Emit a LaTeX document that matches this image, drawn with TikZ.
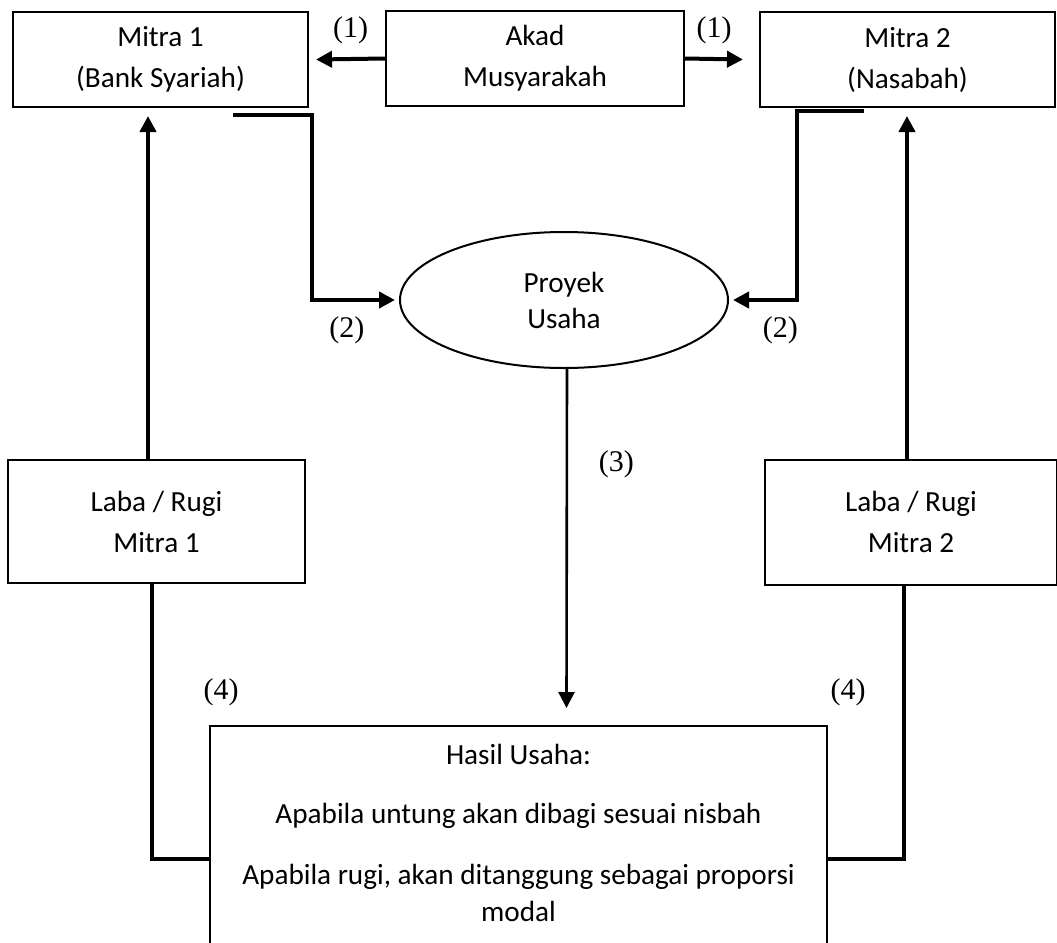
\documentclass[tikz,border=0pt]{standalone}
\usepackage{fontspec}
\setmainfont{Liberation Serif}
\setsansfont{Carlito}
\usetikzlibrary{shapes.geometric, positioning, arrows.meta}
\tikzset{
    box/.style={
        rectangle, draw=black, line width=1pt, align=center, font=\sffamily\fontsize{14.6}{20.5}\selectfont
    },
    oval/.style={
        ellipse, draw=black, line width=1pt, minimum width=164pt, minimum height=68pt, align=center, font=\sffamily\fontsize{14.6}{18}\selectfont
    },
    arrow/.style={
        line width=2pt, -{Triangle[length=8pt,width=8pt]}
    },
    link/.style={
        line width=1.6pt
    },
    num/.style={
        font=\fontsize{15}{15}\selectfont
    }
}

\begin{document}
\begin{tikzpicture}[x=0.5pt, y=-0.5pt]
    \useasboundingbox (0,0) rectangle (1057,943);

    % Nodes
    \node (akad) [box, minimum width=149pt, minimum height=47.5pt] at (535,58.5) {Akad\\Musyarakah};
    \node (m1) [box, minimum width=147.5pt, minimum height=47.5pt] at (160.5,59.5) {Mitra 1\\(Bank Syariah)};
    \node (m2) [box, minimum width=147.5pt, minimum height=47.5pt] at (907.5,59.5) {Mitra 2\\(Nasabah)};
    \node (proyek) [oval] at (564,300) {Proyek\\Usaha};
    \node (lr1) [box, minimum width=148.5pt, minimum height=61.5pt] at (156.5,521.5) {Laba / Rugi\\Mitra 1};
    \node (lr2) [box, minimum width=146pt, minimum height=62.5pt] at (911,522) {Laba / Rugi\\Mitra 2};
    \node (hasil) [box, minimum width=308.5pt, minimum height=133pt, anchor=north] at (518.5,725) {};
    \node (hasiltxt) [anchor=north, inner sep=0pt, align=center, font=\sffamily\fontsize{14.6}{18.5}\selectfont]
        at ([yshift=-9.5pt]hasil.north) {Hasil Usaha:\\[11pt]Apabila untung akan dibagi sesuai nisbah\\[12pt]Apabila rugi, akan ditanggung sebagai proporsi\\modal};

    \coordinate (m1out) at (233,115);
    \coordinate (m2out) at (864,111);

    % Connections
    \draw [arrow] (akad.west) -- node[num, above=3pt] {(1)} ([xshift=3.5pt]m1.east);
    \draw [arrow] (akad.east) -- node[num, above=3pt] {(1)} ([xshift=-8pt]m2.west);
    \draw [arrow] (m1out) -- ++(79,0) |- node[num, pos=0.71, below=4pt] {(2)} ([xshift=-2pt]proyek.west);
    \draw [arrow] (m2out) -- ++(-67,0) |- node[num, pos=0.63, below=4pt] {(2)} ([xshift=2pt]proyek.east);
    \draw [arrow, line width=1.3pt] ([xshift=1.5pt]proyek.south) -- node[num, pos=0.28, right=12pt] {(3)} ([xshift=24pt, yshift=8.5pt]hasil.north);
    \draw [arrow] ([xshift=-4.25pt]lr1.north) -- ([xshift=-4.25pt, yshift=-4pt]lr1.north |- m1.south);
    \draw [arrow] ([xshift=-2pt]lr2.north) -- ([xshift=-2pt, yshift=-4pt]lr2.north |- m2.south);
    \draw [link] ([xshift=-2.25pt]lr1.south) |- (hasil.west);
    \draw [link] ([xshift=-3.5pt]lr2.south) |- (hasil.east);

    \node (n4a) [num] at (221,692) {(4)};
    \node (n4b) [num] at (848,692) {(4)};
\end{tikzpicture}
\end{document}
